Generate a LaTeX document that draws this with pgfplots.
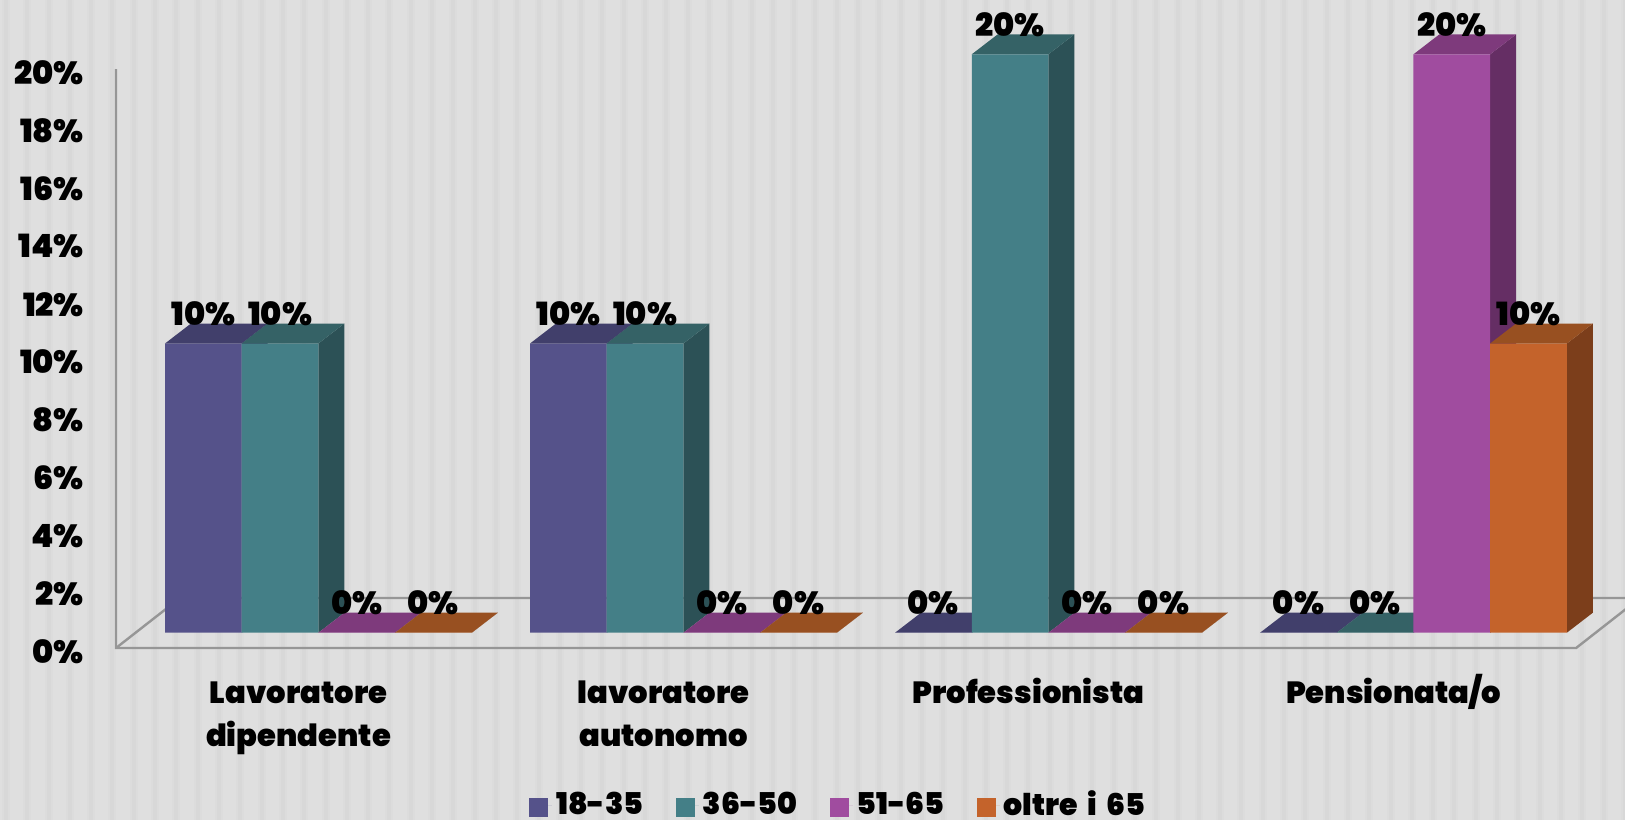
\documentclass[border=0pt]{standalone}
\usepackage{pgfplots}
\pgfplotsset{compat=1.18}
\usepackage{fontspec}
\setmainfont{Poppins}[UprightFont=* Black,BoldFont=* Black]
\definecolor{bgbase}{HTML}{DFDFDF}
\definecolor{bgstripe}{HTML}{D8D8D8}
\definecolor{bgsoft}{HTML}{DCDCDC}
\definecolor{frameline}{HTML}{969696}
\definecolor{bluef}{HTML}{55528A}\definecolor{bluet}{HTML}{413F6B}\definecolor{blues}{HTML}{35335A}
\definecolor{tealf}{HTML}{447F87}\definecolor{tealt}{HTML}{356266}\definecolor{teals}{HTML}{2C5156}
\definecolor{purpf}{HTML}{A04C9F}\definecolor{purpt}{HTML}{7E3A7C}\definecolor{purps}{HTML}{652E64}
\definecolor{orngf}{HTML}{C4632B}\definecolor{orngt}{HTML}{985021}\definecolor{orngs}{HTML}{7C3E1B}

% top and side face of one 3D bar: colour prefix, shift, category, value
\newcommand{\faces}[4]{%
  \pgfmathsetmacro\xa{#3+#2-0.10507}%
  \pgfmathsetmacro\xb{#3+#2+0.10507}%
  \pgfmathsetmacro\xc{\xa+0.07123}%
  \pgfmathsetmacro\xd{\xb+0.07123}%
  \pgfmathsetmacro\yt{#4+0.6916}%
  \edef\temp{\noexpand\addplot[draw=none,fill=#1s,forget plot] coordinates
    {(\xb,0) (\xd,0.6916) (\xd,\yt) (\xb,#4)} --cycle;
    \noexpand\addplot[draw=none,fill=#1t,forget plot] coordinates
    {(\xa,#4) (\xb,#4) (\xd,\yt) (\xc,\yt)} --cycle;}%
  \temp}

\pgfplotsset{
  front/.style={ybar,bar width=38.35pt,bar shift=#1,draw=none,
    nodes near coords={\pgfmathprintnumber[precision=0]{\pgfplotspointmeta}\%},
    every node near coord/.append style={font=\fontsize{16}{16}\selectfont,text=black,
      anchor=base,inner sep=0pt,xshift=#1,yshift=9pt}},
  legimg/.style={legend image code/.code={\path (0pt,0pt) rectangle (11.5pt,0pt);\fill[##1] (0pt,-6.1pt) rectangle (9.5pt,3.4pt);}},
}

\begin{document}
\begin{tikzpicture}
\useasboundingbox (-58pt,-86pt) rectangle (754.5pt,324pt);
\fill[bgbase] (-58pt,-86pt) rectangle (754.5pt,324pt);
\foreach \i in {0,...,76} {
  \fill[bgsoft] ({-57pt+\i*10.65pt},-86pt) rectangle ++(4pt,410pt);
  \fill[bgstripe] ({-56pt+\i*10.65pt},-86pt) rectangle ++(2pt,410pt);
}
\begin{axis}[
  /pgf/number format/assume math mode=true,
  at={(0pt,0pt)},anchor=south west,
  scale only axis,width=754.5pt,height=324pt,
  clip=false,
  xmin=-0.5,xmax=3.634,ymin=-0.529,ymax=21.878,
  axis line style={draw=none},
  major tick style={draw=none},
  xtick={0,1,2,3},
  xticklabels={{\rule{0pt}{15pt}Lavoratore\\dipendente},{\rule{0pt}{15pt}lavoratore\\autonomo},{\rule{0pt}{15pt}Professionista},{\rule{0pt}{15pt}Pensionata/o}},
  xticklabel style={align=center,font=\fontsize{15.3}{21.5pt}\selectfont,inner sep=0pt,yshift=-12.5pt},
  ytick={0,2,...,20},
  yticklabel={\pgfmathprintnumber{\tick}\%},
  yticklabel style={font=\fontsize{16}{16}\selectfont,anchor=east,inner sep=0pt,xshift=-15.8pt,yshift=-9.3pt},
  legend columns=-1,
  legend style={at={(axis cs:0.631,-6.58)},anchor=south west,draw=none,fill=none,inner sep=0pt,
    font=\fontsize{15}{15}\selectfont,/tikz/every even column/.append style={column sep=14.2pt}},
  legimg,
]
% frame of the 3D floor and wall
\addplot[frameline,line width=1.2pt,forget plot] coordinates {(-0.5,19.49) (-0.5,-0.529) (3.5,-0.529) (3.675,1.2)};
\addplot[frameline,line width=1.2pt,forget plot] coordinates {(-0.5,-0.529) (-0.3247,1.2) (3.675,1.2)};

% 18-35
\faces{blue}{-0.2607}{0}{10}\faces{blue}{-0.2607}{1}{10}\faces{blue}{-0.2607}{2}{0}\faces{blue}{-0.2607}{3}{0}
\addplot[front=-47.58pt,fill=bluef] coordinates {(0,10) (1,10) (2,0) (3,0)};
\addlegendentry{18-35}
% 36-50
\faces{teal}{-0.0506}{0}{10}\faces{teal}{-0.0506}{1}{10}\faces{teal}{-0.0506}{2}{20}\faces{teal}{-0.0506}{3}{0}
\addplot[front=-9.23pt,fill=tealf] coordinates {(0,10) (1,10) (2,20) (3,0)};
\addlegendentry{36-50}
% 51-65
\faces{purp}{0.1595}{0}{0}\faces{purp}{0.1595}{1}{0}\faces{purp}{0.1595}{2}{0}\faces{purp}{0.1595}{3}{20}
\addplot[front=29.11pt,fill=purpf] coordinates {(0,0) (1,0) (2,0) (3,20)};
\addlegendentry{51-65}
% oltre i 65
\faces{orng}{0.3696}{0}{0}\faces{orng}{0.3696}{1}{0}\faces{orng}{0.3696}{2}{0}\faces{orng}{0.3696}{3}{10}
\addplot[front=67.45pt,fill=orngf] coordinates {(0,0) (1,0) (2,0) (3,10)};
\addlegendentry{oltre\hspace{2pt} i\hspace{2pt} 65}
\end{axis}
\end{tikzpicture}
\end{document}
